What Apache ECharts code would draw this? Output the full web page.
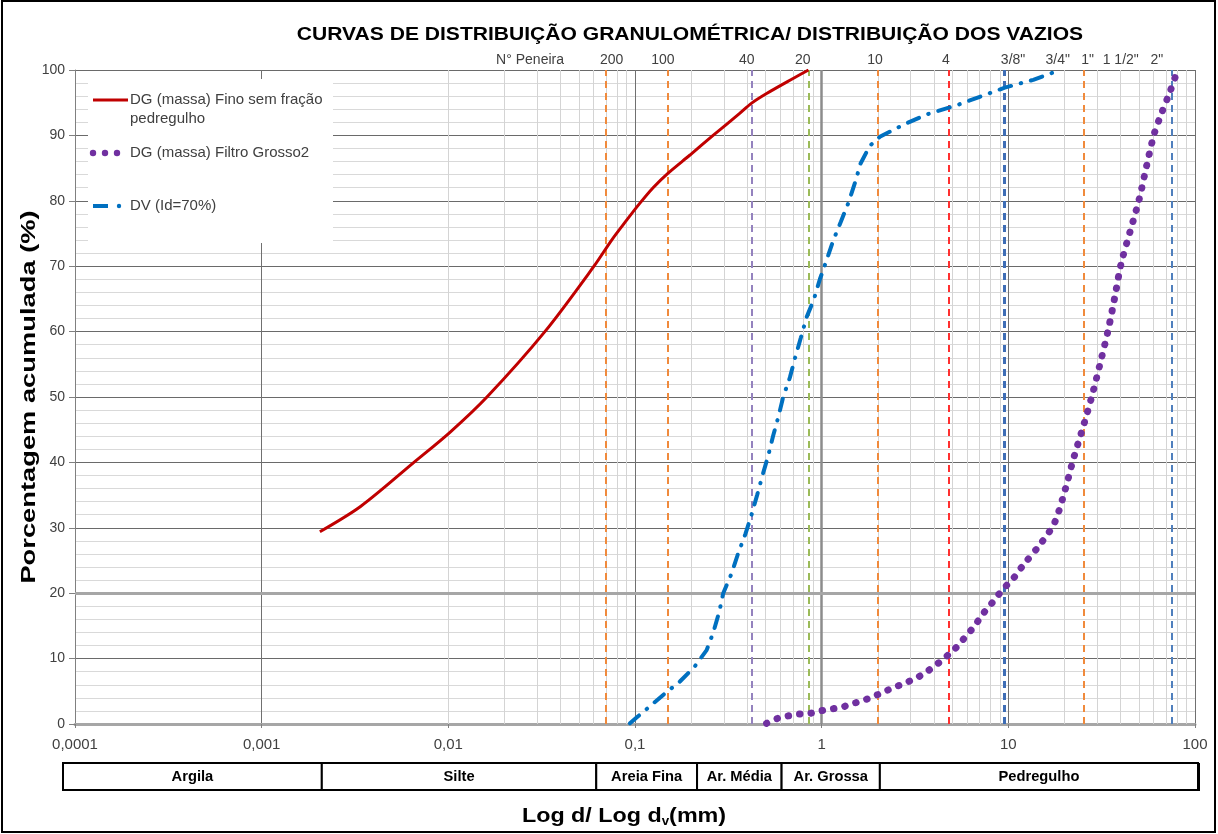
<!DOCTYPE html>
<html><head><meta charset="utf-8">
<script src="https://cdn.jsdelivr.net/npm/echarts@6/dist/echarts.min.js"></script>
<style>html,body{margin:0;padding:0;background:#fff}#c{width:1218px;height:834px}</style>
</head><body><div id="c"></div>
<script>
// ---------- DATA ----------
const titleText = 'CURVAS DE DISTRIBUIÇÃO GRANULOMÉTRICA/ DISTRIBUIÇÃO DOS VAZIOS';
const seriesNames = ['DG (massa) Fino sem fração pedregulho', 'DG (massa) Filtro Grosso2', 'DV (Id=70%)'];
const legendLines = [['DG (massa) Fino sem fração', 'pedregulho'], ['DG (massa) Filtro Grosso2'], ['DV (Id=70%)']];

// DG (massa) Fino sem fração pedregulho : diameter (mm) / % passing
const fineD = [0.00205, 0.0034, 0.00654, 0.0102, 0.0161, 0.0329, 0.0603, 0.075, 0.09, 0.106, 0.125, 0.15, 0.197, 0.262, 0.365, 0.42, 0.507, 0.703, 0.85];
const fineP = [29.4, 33.3, 40.0, 44.6, 50.0, 60.0, 70.0, 74.0, 77.0, 79.6, 82.0, 84.2, 87.0, 90.0, 93.4, 94.9, 96.4, 98.7, 100];

// DG (massa) Filtro Grosso2
const coarseD = [0.507, 0.573, 0.65, 0.75, 0.86, 0.98, 1.13, 1.29, 1.46, 1.67, 1.89, 2.15, 2.44, 2.77, 3.13, 3.54, 3.99, 4.44, 4.86, 5.43, 5.87, 6.43, 6.98, 7.57, 8.29, 8.99, 9.86, 10.8, 11.8, 15.2, 17.7, 20.1, 22.3, 25.2, 28.2, 31.2, 34.3, 37.2, 40.2, 44.9, 50.2, 55.0, 60.4, 66.2, 73.3, 80.0];
const coarseP = [0.1, 0.8, 1.2, 1.5, 1.6, 2.0, 2.3, 2.6, 3.1, 3.6, 4.2, 4.9, 5.6, 6.2, 6.9, 7.7, 8.8, 9.8, 10.8, 12.1, 13.3, 14.6, 16.0, 17.4, 18.7, 20.0, 21.3, 22.5, 24.0, 27.9, 30.8, 35.7, 40.5, 45.5, 50.4, 55.4, 60.3, 65.3, 70.4, 75.3, 80.2, 85.3, 90.2, 93.4, 96.6, 99.7];

// DV (Id=70%)
const voidD = [0.094, 0.102, 0.119, 0.145, 0.174, 0.209, 0.242, 0.262, 0.283, 0.297, 0.329, 0.357, 0.391, 0.421, 0.451, 0.483, 0.517, 0.55, 0.588, 0.622, 0.676, 0.719, 0.774, 0.83, 0.908, 0.978, 1.062, 1.152, 1.267, 1.387, 1.506, 1.616, 1.81, 2.05, 2.77, 3.65, 5.28, 7.03, 9.57, 13.6, 18.5];
const voidP = [0.1, 1.0, 2.6, 4.7, 6.5, 8.8, 11.3, 13.9, 17.2, 20.0, 23.0, 26.1, 29.1, 32.0, 35.0, 38.1, 41.0, 44.1, 47.1, 50.0, 53.0, 55.9, 59.1, 62.2, 64.9, 68.0, 70.9, 73.9, 76.8, 79.6, 82.7, 85.7, 88.4, 89.8, 91.7, 93.2, 94.6, 95.9, 97.3, 98.5, 99.9];

// Sieve reference lines (mm)
const sieveLineMm = [0.075, 0.15, 0.42, 0.85, 2.0, 4.8, 9.5, 25.4, 75];
// Sieve labels on top and where they sit (mm)
const sieveLabels = ['N° Peneira', '200', '100', '40', '20', '10', '4', '3/8"', '3/4"', '1"', '1 1/2"', '2"'];
const sieveLabelMm = [0.0274, 0.075, 0.141, 0.397, 0.793, 1.93, 4.63, 10.6, 18.4, 26.6, 40.0, 62.4];

// Soil classes and their boundaries (mm)
const soilNames = ['Argila', 'Silte', 'Areia Fina', 'Ar. Média', 'Ar. Grossa', 'Pedregulho'];
const soilBounds = [0.0021, 0.062, 0.215, 0.61, 2.05];

const xTickLabels = ['0,0001', '0,001', '0,01', '0,1', '1', '10', '100'];
const yTicks = [0, 10, 20, 30, 40, 50, 60, 70, 80, 90, 100];

// ---------- STYLE ----------
const RED = '#C00000', PURPLE = '#7030A0', BLUE = '#0070C0';
const sieveColors = ['#F08A3C', '#F08A3C', '#9482BE', '#9BBB59', '#F08A3C', '#FF3030', '#3E6DB5', '#F08A3C', '#4F7FBD'];
const sieveWidths = [2, 2, 2, 2, 2, 2, 3, 2, 2];
const FONT = '"Liberation Sans", Arial, sans-serif';

const zip = (a, b) => a.map((v, i) => [v, b[i]]);

const minorX = [];
for (let k = -4; k <= 1; k++) for (let m = 2; m <= 9; m++) minorX.push(m * Math.pow(10, k));

const chart = echarts.init(document.getElementById('c'), null, { renderer: 'canvas' });

const option = {
  animation: false,
  backgroundColor: '#fff',
  grid: { left: 75, right: 23, top: 70, bottom: 110, containLabel: false },
  xAxis: {
    type: 'log', logBase: 10, min: 0.0001, max: 100,
    axisLine: { show: true, onZero: false, lineStyle: { color: '#A6A6A6', width: 3 } },
    axisTick: { show: true, length: 4, lineStyle: { color: '#808080' } },
    axisLabel: {
      margin: 13, fontFamily: FONT, fontSize: 15, color: '#404040',
      formatter: v => xTickLabels[Math.round(Math.log10(v)) + 4]
    },
    splitLine: { show: true, lineStyle: { color: '#707070', width: 1 } }
  },
  yAxis: {
    type: 'value', min: 0, max: 100, interval: 10,
    axisLine: { show: true, lineStyle: { color: '#808080', width: 1 } },
    axisTick: { show: true, length: 6, lineStyle: { color: '#808080' } },
    axisLabel: { margin: 10, fontFamily: FONT, fontSize: 14, color: '#404040',
      formatter: v => yTicks.indexOf(v) >= 0 ? String(v) : '' },
    splitLine: { show: true, lineStyle: { color: '#6a6a6a', width: 1 } },
    minorTick: { show: false, splitNumber: 5 },
    minorSplitLine: { show: true, lineStyle: { color: '#d9d9d9', width: 1 } }
  },
  series: [
    {
      type: 'line', data: [], z: 1, silent: true,
      markLine: {
        silent: true, symbol: 'none', label: { show: false }, animation: false,
        data: minorX.map(v => ({ xAxis: v, lineStyle: { color: '#d4d4d4', width: 1, type: 'solid' } }))
          .concat([
            { xAxis: 1, lineStyle: { color: '#8c8c8c', width: 2.5, type: 'solid' } },
            { yAxis: 20, lineStyle: { color: '#A6A6A6', width: 3, type: 'solid' } }
          ])
      }
    },
    {
      type: 'line', data: [], z: 4, silent: true,
      markLine: {
        silent: true, symbol: 'none', label: { show: false }, animation: false,
        data: sieveLineMm.map((v, i) => ({ xAxis: v, lineStyle: { color: sieveColors[i], width: sieveWidths[i], type: [7, 5] } }))
      }
    },
    {
      name: seriesNames[0], type: 'line', data: zip(fineD, fineP), symbol: 'none', smooth: 0.3, z: 5,
      lineStyle: { color: RED, width: 3 }
    },
    {
      name: seriesNames[1], type: 'line', data: zip(coarseD, coarseP), symbol: 'none', smooth: 0.3, z: 5,
      lineStyle: { color: PURPLE, width: 7, type: [0.5, 11], cap: 'round' }
    },
    {
      name: seriesNames[2], type: 'line', data: zip(voidD, voidP), symbol: 'none', z: 5,
      lineStyle: { color: BLUE, width: 4, type: [12, 10, 0.5, 10], cap: 'round' }
    }
  ]
};
chart.setOption(option);

// ---------- annotations placed through the axes ----------
const px = v => chart.convertToPixel({ xAxisIndex: 0 }, v);
const py = v => chart.convertToPixel({ yAxisIndex: 0 }, v);
const xL = px(0.0001), xR = px(100), yT = py(100), yB = py(0);

const g = [];
g.push({ type: 'rect', shape: { x: 2, y: 1, width: 1213, height: 831 }, style: { fill: null, stroke: '#000', lineWidth: 2 }, z: 0, silent: true });

// title
g.push({ type: 'text', x: 690, y: 35, scaleX: 1.17, z: 10, silent: true,
  style: { text: titleText, fill: '#000', font: 'bold 18px ' + FONT, textAlign: 'center', textVerticalAlign: 'middle' } });

// legend (white box over the grid)
const lgX = xL + 13, lgY = yT + 9;
g.push({ type: 'rect', shape: { x: lgX, y: lgY, width: 245, height: 164 }, z: 3, silent: true, style: { fill: '#fff', stroke: null } });
g.push({ type: 'line', shape: { x1: lgX + 5, y1: lgY + 21, x2: lgX + 40, y2: lgY + 21 }, z: 6, silent: true,
  style: { stroke: RED, lineWidth: 3 } });
[0, 1, 2].forEach(k => g.push({ type: 'circle', shape: { cx: lgX + 5 + 12 * k, cy: lgY + 74, r: 3.2 }, z: 6, silent: true, style: { fill: PURPLE } }));
g.push({ type: 'line', shape: { x1: lgX + 5, y1: lgY + 127, x2: lgX + 20, y2: lgY + 127 }, z: 6, silent: true,
  style: { stroke: BLUE, lineWidth: 4 } });
g.push({ type: 'circle', shape: { cx: lgX + 31, cy: lgY + 127, r: 2.2 }, z: 6, silent: true, style: { fill: BLUE } });
const lgRowY = [lgY + 21, lgY + 74, lgY + 127];
legendLines.forEach((lines, i) => lines.forEach((t, j) => {
  g.push({ type: 'text', x: lgX + 42, y: lgRowY[i] + 19 * j, z: 6, silent: true,
    style: { text: t, fill: '#404040', font: '15px ' + FONT, textAlign: 'left', textVerticalAlign: 'middle' } });
}));

// sieve labels on top
sieveLabels.forEach((t, i) => {
  g.push({ type: 'text', x: px(sieveLabelMm[i]), y: yT - 10, z: 10, silent: true,
    style: { text: t, fill: '#404040', font: '14px ' + FONT, textAlign: 'center', textVerticalAlign: 'middle' } });
});

// soil classification bar
const edges = [xL - 12].concat(soilBounds.map(px)).concat([xR + 3]);
const barTop = yB + 39, barH = 27;
soilNames.forEach((n, i) => {
  const x0 = edges[i], x1 = edges[i + 1];
  g.push({ type: 'rect', shape: { x: x0, y: barTop, width: x1 - x0, height: barH }, z: 10, silent: true,
    style: { fill: '#fff', stroke: '#000', lineWidth: 2 } });
  g.push({ type: 'text', x: (x0 + x1) / 2, y: barTop + barH / 2 + 1, z: 11, silent: true, scaleX: 1.05,
    style: { text: n, fill: '#000', font: 'bold 14px ' + FONT, textAlign: 'center', textVerticalAlign: 'middle' } });
});
g.push({ type: 'line', shape: { x1: xR + 4, y1: barTop, x2: xR + 4, y2: barTop + barH + 1 }, z: 12, silent: true, style: { stroke: '#000', lineWidth: 2 } });

// axis titles
g.push({ type: 'text', x: 29, y: (yT + yB) / 2, rotation: Math.PI / 2, scaleX: 1.3, z: 10, silent: true,
  style: { text: 'Porcentagem acumulada (%)', fill: '#000', font: 'bold 21px ' + FONT, textAlign: 'center', textVerticalAlign: 'middle' } });
g.push({ type: 'text', x: 624, y: 816, z: 10, silent: true, scaleX: 1.11,
  style: {
    text: '{a|Log d/ Log d}{s|v}{a|(mm)}', textAlign: 'center', textVerticalAlign: 'middle',
    rich: {
      a: { fontFamily: FONT, fontWeight: 'bold', fontSize: 21, fill: '#000', color: '#000' },
      s: { fontFamily: FONT, fontWeight: 'bold', fontSize: 12, fill: '#000', color: '#000', padding: [12, 0, 0, 0] }
    }
  } });

chart.setOption({ graphic: g });
</script>
</body></html>
